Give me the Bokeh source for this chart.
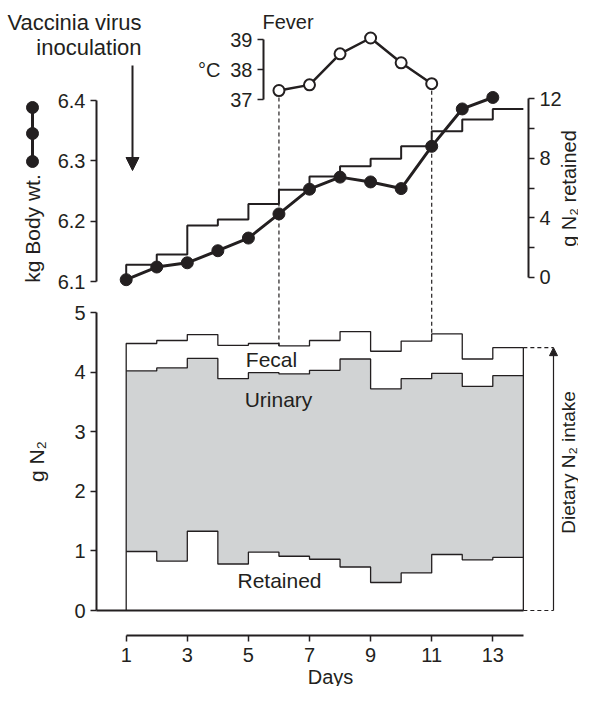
import math
from bokeh.plotting import figure
from bokeh.models import Range1d, LinearAxis, FixedTicker, Arrow, NormalHead
from bokeh.embed import file_html
from bokeh.resources import INLINE
from bokeh.core.properties import value

# ---------------- data ----------------
days = list(range(1, 14))
day_edges = list(range(1, 15))
body_wt_kg = [6.103, 6.124, 6.131, 6.151, 6.172, 6.212, 6.253, 6.273, 6.265, 6.254, 6.324, 6.386, 6.405]
n2_retained_cum_g = [0.83, 1.53, 3.48, 3.88, 4.93, 5.88, 6.77, 7.46, 7.96, 8.81, 9.82, 10.60, 11.32]
fever_days = [6, 7, 8, 9, 10, 11]
fever_temp_c = [37.30, 37.49, 38.53, 39.06, 38.23, 37.53]
retained_g = [0.99, 0.83, 1.33, 0.78, 0.98, 0.91, 0.86, 0.73, 0.47, 0.63, 0.94, 0.85, 0.89]
urinary_g = [3.03, 3.24, 2.90, 3.11, 3.01, 3.06, 3.17, 3.49, 3.25, 3.26, 3.04, 2.91, 3.05]
fecal_g = [0.46, 0.46, 0.40, 0.56, 0.49, 0.47, 0.50, 0.46, 0.63, 0.63, 0.66, 0.46, 0.47]
marked_days = [6, 11]
kg_ticks = [6.1, 6.2, 6.3, 6.4]
retained_ticks = [0, 4, 8, 12]
retained_minor_ticks = [2, 6, 10]
temp_ticks = [37, 38, 39]
gn_ticks = [0, 1, 2, 3, 4, 5]
day_ticks = [1, 3, 5, 7, 9, 11, 13]

# ---------------- layout helpers ----------------
W, H = 578, 686
DAY1_PX, DAY_W = 125.7, 30.55
INK = "#231f20"
GREY = "#d1d3d4"
FONT = "Liberation Sans"


def dx(px):
    return 1 + (px - DAY1_PX) / DAY_W


def yrange(v_a, py_a, v_b, py_b):
    k = (v_b - v_a) / (py_b - py_a)
    return Range1d(start=v_a + (H - py_a) * k, end=v_a + (0 - py_a) * k)


def to_page(rng, v):
    return H - (v - rng.start) / (rng.end - rng.start) * H


gn_range = yrange(0, 610, 5, 312)
kg_range = yrange(6.1, 281, 6.4, 100)
ret_range = yrange(0, 276.7, 12, 98.3)
temp_range = yrange(37, 99, 39, 39.3)
page_range = Range1d(start=H, end=0)

p = figure(width=W, height=H, x_range=Range1d(dx(0), dx(W)), y_range=gn_range,
           output_backend="svg", toolbar_location=None, x_axis_location=None,
           y_axis_location=None, min_border=0, outline_line_color=None)
p.extra_y_ranges = {"kg": kg_range, "ret": ret_range, "temp": temp_range, "page": page_range}
p.grid.visible = False


def add_axis(side, rng, loc, bounds, ticks, minor=None, size="20px", standoff=5):
    ax = LinearAxis(y_range_name=rng)
    ax.fixed_location = loc
    ax.bounds = bounds
    ax.ticker = FixedTicker(ticks=ticks, minor_ticks=minor or [])
    ax.major_tick_in = 0
    ax.major_tick_out = 6
    ax.minor_tick_in = 0
    ax.minor_tick_out = 6 if minor else 0
    ax.axis_line_width = 2
    ax.axis_line_color = INK
    ax.major_tick_line_width = 1.5
    ax.minor_tick_line_width = 1.5
    ax.major_tick_line_color = INK
    ax.minor_tick_line_color = INK
    ax.major_label_text_font = FONT
    ax.major_label_text_font_size = size
    ax.major_label_text_color = INK
    ax.major_label_standoff = standoff
    p.add_layout(ax, side)
    return ax


add_axis("left", "kg", dx(96), (kg_ticks[0], kg_ticks[-1]), kg_ticks)
add_axis("right", "ret", dx(528), (retained_ticks[0], retained_ticks[-1]), retained_ticks, retained_minor_ticks)
add_axis("left", "temp", dx(263), (temp_ticks[0], temp_ticks[-1]), temp_ticks)
add_axis("left", "default", dx(96), (gn_ticks[0], gn_ticks[-1]), gn_ticks)
add_axis("below", "default", 0, (dx(96), day_edges[-1]), [])
add_axis("below", "default", -(635 - 610) / 59.6, (day_edges[0], day_edges[-1]), day_ticks, standoff=6)


def txt(x_px, y_px, s, size="21px", align="center", angle=0.0):
    p.text(x=[dx(x_px)], y=[y_px], text=[s], y_range_name="page", text_font=value(FONT),
           text_font_size=size, text_align=align, text_baseline="middle", angle=angle,
           text_color=INK)


# ---------------- bottom panel: nitrogen balance ----------------
urinary_top = [r + u for r, u in zip(retained_g, urinary_g)]
intake = [t + f for t, f in zip(urinary_top, fecal_g)]

p.varea_step(x=day_edges, y1=retained_g + retained_g[-1:], y2=urinary_top + urinary_top[-1:],
             step_mode="after", fill_color=GREY)
p.step(x=[day_edges[0]] + day_edges + [day_edges[-1]], y=[0] + intake + intake[-1:] + [0],
       mode="after", line_color=INK, line_width=1.3)
p.step(x=day_edges, y=urinary_top + urinary_top[-1:], mode="after", line_color=INK, line_width=1.3)
p.step(x=day_edges, y=retained_g + retained_g[-1:], mode="after", line_color=INK, line_width=1.3)

txt(271, 359, "Fecal")
txt(278, 399, "Urinary")
txt(279, 580, "Retained")

# dietary intake bracket
arrow_day = dx(553)
p.segment(x0=[day_edges[-1]] * 2, y0=[0, intake[-1]], x1=[arrow_day] * 2, y1=[0, intake[-1]],
          line_color=INK, line_width=1.2, line_dash="4 3")
p.add_layout(Arrow(end=NormalHead(size=8, fill_color=INK, line_color=INK, line_width=1),
                   x_start=arrow_day, y_start=0, x_end=arrow_day, y_end=intake[-1],
                   line_color=INK, line_width=1.2))
txt(568, 462, "Dietary N\u2082 intake", size="19px", angle=math.pi / 2)
txt(36, 461, "g N\u2082", angle=math.pi / 2)

# ---------------- top panel ----------------
p.step(x=[day_edges[0]] + day_edges, y=[0] + n2_retained_cum_g + n2_retained_cum_g[-1:],
       mode="after", y_range_name="ret", line_color=INK, line_width=2)
p.line(days, body_wt_kg, y_range_name="kg", line_color=INK, line_width=3)
p.scatter(days, body_wt_kg, y_range_name="kg", size=12, fill_color=INK, line_color=INK)

# dashed markers linking fever window to the balance panel
for d in marked_days:
    t = fever_temp_c[fever_days.index(d)]
    top = intake[days.index(d)]
    p.segment(x0=[d], y0=[to_page(temp_range, t)], x1=[d], y1=[to_page(gn_range, top)],
              y_range_name="page", line_color=INK, line_width=1.2, line_dash="4 3")

p.line(fever_days, fever_temp_c, y_range_name="temp", line_color=INK, line_width=2.5)
p.scatter(fever_days, fever_temp_c, y_range_name="temp", size=11, fill_color="white",
          line_color=INK, line_width=2)

txt(262, 21, "Fever", size="20px", align="left")
txt(220, 69, "\u00b0C", size="20px", align="right")

# legend key for body weight
key_x = dx(32)
p.line([key_x] * 3, [107, 133, 161], y_range_name="page", line_color=INK, line_width=3)
p.scatter([key_x] * 3, [107, 133, 161], y_range_name="page", size=12, fill_color=INK, line_color=INK)
txt(32, 228, "kg Body wt.", angle=math.pi / 2)
txt(568, 188, "g N\u2082 retained", size="20px", angle=math.pi / 2)

# inoculation marker
txt(141, 22, "Vaccinia virus", size="22px", align="right")
txt(141, 47, "inoculation", size="22px", align="right")
p.add_layout(Arrow(end=NormalHead(size=13, fill_color=INK, line_color=INK, line_width=1),
                   x_start=dx(132), y_start=65, x_end=dx(132), y_end=170, y_range_name="page",
                   line_color=INK, line_width=2))

txt(330, 676, "Days", size="20px")

open("out.html", "w").write(file_html(p, INLINE))
